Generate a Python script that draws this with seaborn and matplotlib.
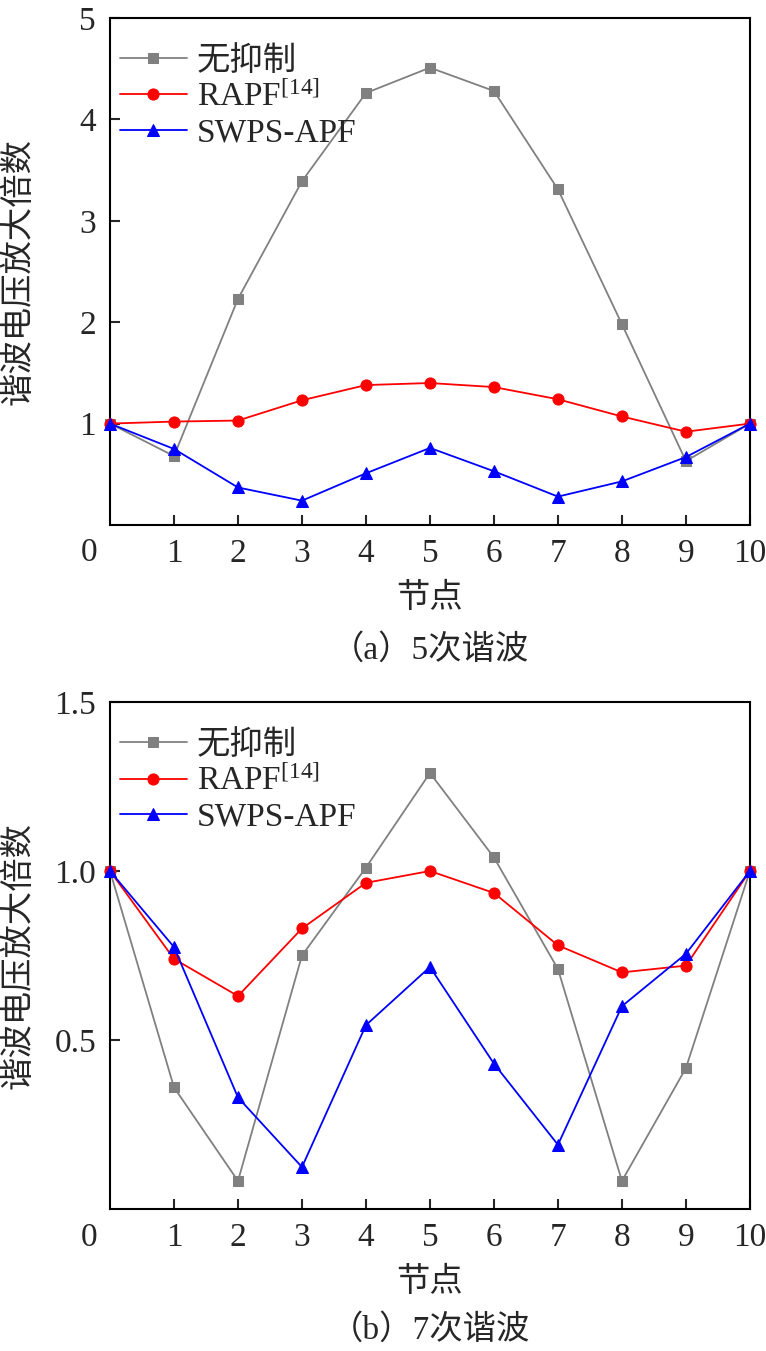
import numpy as np
import pandas as pd
import matplotlib
matplotlib.use('Agg')
import matplotlib.pyplot as plt
import seaborn as sns

# Data
nodes = [0, 1, 2, 3, 4, 5, 6, 7, 8, 9, 10]

# (a) 5th harmonic
h5_none = [1.0, 0.68, 2.23, 3.39, 4.26, 4.51, 4.28, 3.31, 1.98, 0.63, 1.0]
h5_rapf = [1.0, 1.02, 1.03, 1.23, 1.38, 1.40, 1.36, 1.24, 1.07, 0.92, 1.0]
h5_swps = [1.0, 0.75, 0.37, 0.24, 0.51, 0.76, 0.53, 0.28, 0.43, 0.67, 1.0]

# (b) 7th harmonic
h7_none = [1.0, 0.36, 0.083, 0.75, 1.01, 1.29, 1.04, 0.71, 0.083, 0.417, 1.0]
h7_rapf = [1.0, 0.74, 0.63, 0.83, 0.965, 1.0, 0.935, 0.78, 0.70, 0.72, 1.0]
h7_swps = [1.0, 0.775, 0.33, 0.124, 0.544, 0.716, 0.43, 0.19, 0.60, 0.755, 1.0]

series_names = ['无抑制', 'RAPF$^{[14]}$', 'SWPS-APF']
x_labels = ['0', '1', '2', '3', '4', '5', '6', '7', '8', '9', '10']

sns.set_style('ticks')
plt.rcParams['font.family'] = ['Liberation Serif', 'Noto Sans CJK SC', 'DejaVu Sans']
plt.rcParams['mathtext.fontset'] = 'custom'
plt.rcParams['mathtext.rm'] = 'Liberation Serif'
plt.rcParams['mathtext.it'] = 'Liberation Serif:italic'
plt.rcParams['mathtext.bf'] = 'Liberation Serif:bold'

fs = 24
styles = [('#808080', 's', 7), ('#ff0000', 'o', 8), ('#0000ff', '^', 9)]

fig = plt.figure(figsize=(7.66, 13.51), dpi=100)
ax1 = fig.add_axes([0.1436, 0.6114, 0.8354, 0.3753])
ax2 = fig.add_axes([0.1436, 0.1051, 0.8354, 0.3753])


def draw_panel(ax, data, ylim, yticks, yticklabels, caption, cap_y):
    for vals, name, (col, mk, ms) in zip(data, series_names, styles):
        df = pd.DataFrame({'node': nodes, 'v': vals})
        sns.lineplot(data=df, x='node', y='v', ax=ax, color=col, marker=mk,
                     markersize=ms, markeredgecolor=col, linewidth=1.3,
                     label=name, clip_on=False, zorder=3)
    ax.set_xlim(0, 10)
    ax.set_ylim(*ylim)
    ax.set_xticks(nodes[1:])
    ax.set_xticklabels(x_labels[1:])
    ax.set_yticks(yticks)
    ax.set_yticklabels(yticklabels)
    ax.tick_params(direction='in', length=7, width=1.5, labelsize=fs, pad=10)
    for s in ax.spines.values():
        s.set_linewidth(1.5)
        s.set_color('black')
    # origin label sits left of the spine
    ax.annotate('0', xy=(0, 0), xycoords='axes fraction', xytext=(-21, -13),
                textcoords='offset pixels', ha='center', va='top', fontsize=fs)
    ax.set_xlabel('节点', fontsize=fs)
    ax.xaxis.set_label_coords(0.5, -0.115)
    ax.set_ylabel('谐波电压放大倍数', fontsize=fs)
    ax.yaxis.set_label_coords(-0.118, 0.5)
    ax.legend(loc='upper left', bbox_to_anchor=(0.0, 0.9645), frameon=False,
              fontsize=fs, handlelength=2.0, handletextpad=0.3,
              labelspacing=0.15, borderaxespad=0, borderpad=0.3)
    fig.text(0.561, cap_y, caption, ha='center', va='center', fontsize=fs)


draw_panel(ax1, [h5_none, h5_rapf, h5_swps], (0, 5), [1, 2, 3, 4, 5],
           ['1', '2', '3', '4', '5'], '（a）5次谐波', 1 - 650 / 1351)
draw_panel(ax2, [h7_none, h7_rapf, h7_swps], (0, 1.5), [0.5, 1.0, 1.5],
           ['0.5', '1.0', '1.5'], '（b）7次谐波', 1 - 1330 / 1351)

fig.savefig('out.png', dpi=100)
